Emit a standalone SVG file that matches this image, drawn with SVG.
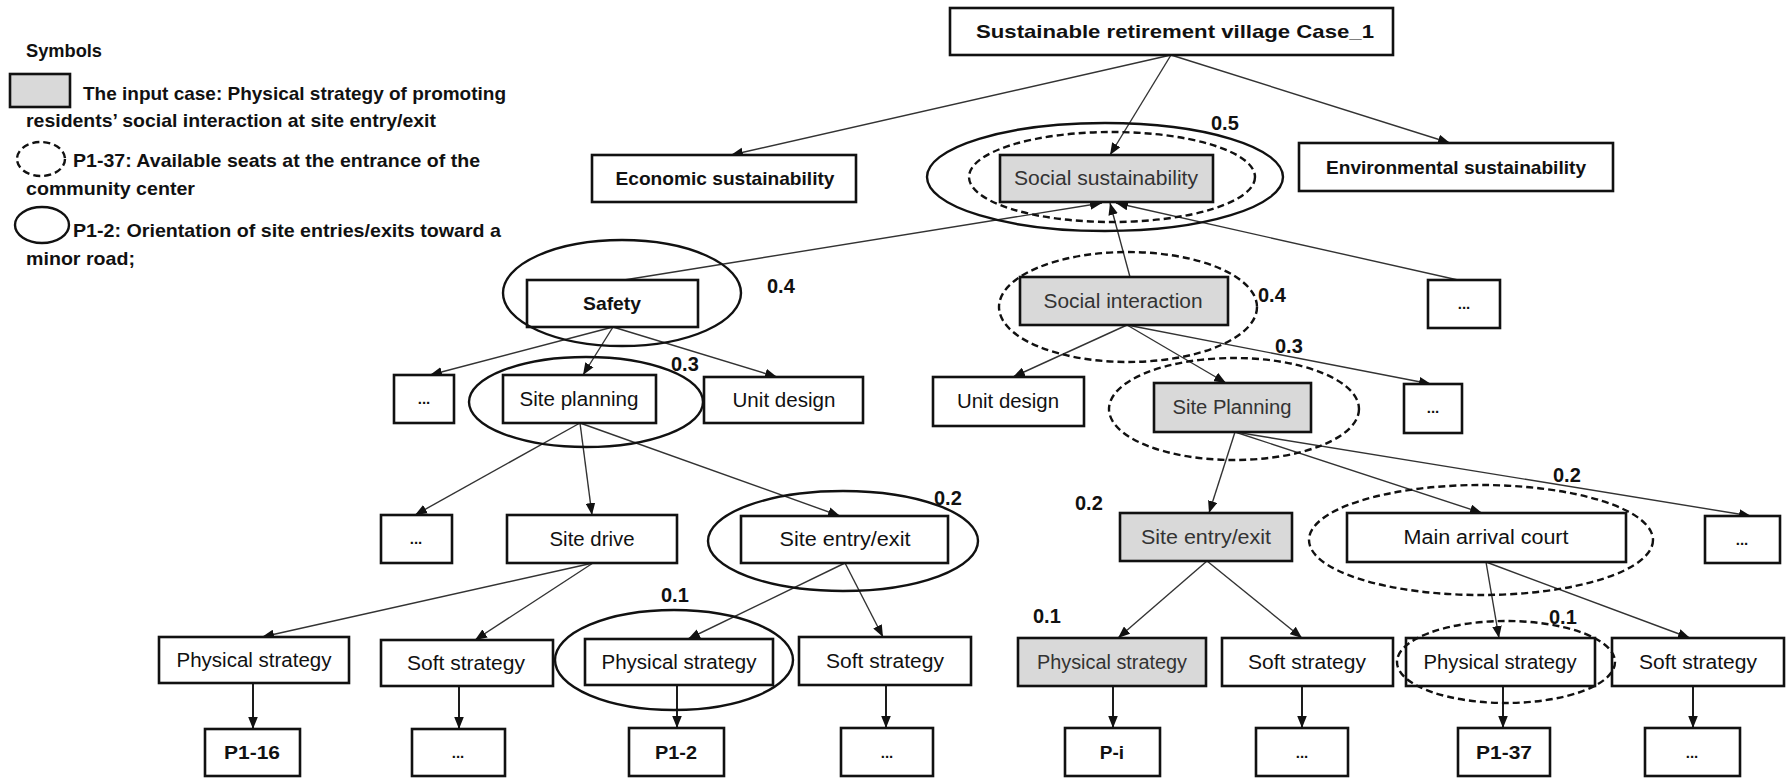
<svg xmlns="http://www.w3.org/2000/svg" width="1790" height="778" viewBox="0 0 1790 778">
<style>
.bg{fill:#ffffff}
.box{fill:#ffffff;stroke:#111;stroke-width:2.6}
.gbox{fill:#d9d9d9;stroke:#111;stroke-width:2.6}
.lbl{font-family:"Liberation Sans",Arial,sans-serif;font-size:20px;fill:#111;text-anchor:middle}
.glbl{font-family:"Liberation Sans",Arial,sans-serif;font-size:20px;fill:#333;text-anchor:middle}
.blbl{font-family:"Liberation Sans",Arial,sans-serif;font-size:19px;font-weight:bold;fill:#111;text-anchor:middle}
.dots{font-family:"Liberation Sans",Arial,sans-serif;font-size:15px;font-weight:bold;fill:#111;text-anchor:middle}
.num{font-family:"Liberation Sans",Arial,sans-serif;font-size:20px;font-weight:bold;fill:#111}
.leg{font-family:"Liberation Sans",Arial,sans-serif;font-size:19px;font-weight:bold;fill:#111}
.ell{fill:none;stroke:#111;stroke-width:2.4}
.dell{fill:none;stroke:#111;stroke-width:2.4;stroke-dasharray:7 4}
.con{fill:none;stroke:#333;stroke-width:1.4;marker-end:url(#arr)}
.vcon{fill:none;stroke:#111;stroke-width:1.9;marker-end:url(#arr)}
</style>
<defs>
<marker id="arr" viewBox="0 0 10 8" refX="10" refY="4" markerWidth="12" markerHeight="10" markerUnits="userSpaceOnUse" orient="auto">
<path d="M0,0 L10,4 L0,8 z" fill="#111"/>
</marker>
</defs>
<rect class="bg" x="0" y="0" width="1790" height="778"/>

<g id="legend">
<text class="leg" x="26" y="57" textLength="76" lengthAdjust="spacingAndGlyphs">Symbols</text>
<rect class="gbox" x="10" y="74" width="60" height="33" stroke-width="2"/>
<text class="leg" x="83" y="100" textLength="423" lengthAdjust="spacingAndGlyphs">The input case: Physical strategy of promoting</text>
<text class="leg" x="26" y="127" textLength="410" lengthAdjust="spacingAndGlyphs">residents’ social interaction at site entry/exit</text>
<ellipse class="dell" cx="41" cy="159" rx="24" ry="17"/>
<text class="leg" x="73" y="167" textLength="407" lengthAdjust="spacingAndGlyphs">P1-37: Available seats at the entrance of the</text>
<text class="leg" x="26" y="195" textLength="169" lengthAdjust="spacingAndGlyphs">community center</text>
<ellipse class="ell" cx="42" cy="225" rx="27" ry="18"/>
<text class="leg" x="73" y="237" textLength="428" lengthAdjust="spacingAndGlyphs">P1-2: Orientation of site entries/exits toward a</text>
<text class="leg" x="26" y="265" textLength="109" lengthAdjust="spacingAndGlyphs">minor road;</text>
</g>

<g id="connectors">
<line class="con" x1="1171" y1="55" x2="731" y2="155"/>
<line class="con" x1="1171" y1="55" x2="1110" y2="155"/>
<line class="con" x1="1171" y1="55" x2="1450" y2="143"/>
<line class="con" x1="624" y1="280" x2="1102" y2="203"/>
<line class="con" x1="1130" y1="277" x2="1110" y2="203"/>
<line class="con" x1="1458" y1="280" x2="1116" y2="203"/>
<line class="con" x1="613" y1="327" x2="430" y2="375"/>
<line class="con" x1="613" y1="327" x2="583" y2="375"/>
<line class="con" x1="613" y1="327" x2="777" y2="377"/>
<line class="con" x1="580" y1="423" x2="415" y2="515"/>
<line class="con" x1="580" y1="423" x2="592" y2="515"/>
<line class="con" x1="580" y1="423" x2="840" y2="516"/>
<line class="con" x1="1127" y1="325" x2="1013" y2="377"/>
<line class="con" x1="1127" y1="325" x2="1226" y2="383"/>
<line class="con" x1="1127" y1="325" x2="1431" y2="384"/>
<line class="con" x1="1235" y1="432" x2="1209" y2="513"/>
<line class="con" x1="1235" y1="432" x2="1482" y2="513"/>
<line class="con" x1="1235" y1="432" x2="1751" y2="516"/>
<line class="con" x1="593" y1="563" x2="262" y2="637"/>
<line class="con" x1="593" y1="563" x2="475" y2="640"/>
<line class="con" x1="845" y1="563" x2="688" y2="639"/>
<line class="con" x1="845" y1="563" x2="883" y2="637"/>
<line class="con" x1="1207" y1="561" x2="1118" y2="638"/>
<line class="con" x1="1207" y1="561" x2="1302" y2="638"/>
<line class="con" x1="1486" y1="562" x2="1499" y2="638"/>
<line class="con" x1="1486" y1="562" x2="1690" y2="638"/>
<line class="vcon" x1="253" y1="683" x2="253" y2="729"/>
<line class="vcon" x1="459" y1="686" x2="459" y2="729"/>
<line class="vcon" x1="677" y1="685" x2="677" y2="728"/>
<line class="vcon" x1="886" y1="685" x2="886" y2="728"/>
<line class="vcon" x1="1113" y1="686" x2="1113" y2="728"/>
<line class="vcon" x1="1302" y1="686" x2="1302" y2="728"/>
<line class="vcon" x1="1503" y1="686" x2="1503" y2="728"/>
<line class="vcon" x1="1693" y1="686" x2="1693" y2="728"/>
</g>

<g id="n-root"><rect class="box" x="950" y="8" width="443" height="47"/><text class="blbl" x="1175" y="38" textLength="398" lengthAdjust="spacingAndGlyphs">Sustainable retirement village Case_1</text></g>
<g id="n-econ"><rect class="box" x="592" y="155" width="264" height="47"/><text class="blbl" x="725" y="185" textLength="219" lengthAdjust="spacingAndGlyphs">Economic sustainability</text></g>
<g id="n-social"><rect class="gbox" x="1000" y="155" width="213" height="47"/><text class="glbl" x="1106" y="185" textLength="184" lengthAdjust="spacingAndGlyphs">Social sustainability</text></g>
<g id="n-env"><rect class="box" x="1299" y="143" width="314" height="48"/><text class="blbl" x="1456" y="174" textLength="260" lengthAdjust="spacingAndGlyphs">Environmental sustainability</text></g>
<g id="n-safety"><rect class="box" x="527" y="280" width="171" height="47"/><text class="blbl" x="612" y="310" textLength="58" lengthAdjust="spacingAndGlyphs">Safety</text></g>
<g id="n-socint"><rect class="gbox" x="1020" y="277" width="208" height="48"/><text class="glbl" x="1123" y="308" textLength="159" lengthAdjust="spacingAndGlyphs">Social interaction</text></g>
<g id="n-dots-a"><rect class="box" x="1428" y="280" width="72" height="48"/><text class="dots" x="1464" y="309">...</text></g>
<g id="n-dots-b"><rect class="box" x="394" y="375" width="60" height="48"/><text class="dots" x="424" y="404">...</text></g>
<g id="n-siteplan-l"><rect class="box" x="503" y="375" width="153" height="48"/><text class="lbl" x="579" y="406" textLength="119" lengthAdjust="spacingAndGlyphs">Site planning</text></g>
<g id="n-unit-l"><rect class="box" x="704" y="377" width="159" height="46"/><text class="lbl" x="784" y="407" textLength="103" lengthAdjust="spacingAndGlyphs">Unit design</text></g>
<g id="n-unit-r"><rect class="box" x="933" y="377" width="151" height="49"/><text class="lbl" x="1008" y="408" textLength="102" lengthAdjust="spacingAndGlyphs">Unit design</text></g>
<g id="n-siteplan-r"><rect class="gbox" x="1154" y="383" width="157" height="49"/><text class="glbl" x="1232" y="414" textLength="119" lengthAdjust="spacingAndGlyphs">Site Planning</text></g>
<g id="n-dots-c"><rect class="box" x="1404" y="384" width="58" height="49"/><text class="dots" x="1433" y="413">...</text></g>
<g id="n-dots-d"><rect class="box" x="381" y="515" width="71" height="48"/><text class="dots" x="416" y="544">...</text></g>
<g id="n-sitedrive"><rect class="box" x="507" y="515" width="170" height="48"/><text class="lbl" x="592" y="546" textLength="85" lengthAdjust="spacingAndGlyphs">Site drive</text></g>
<g id="n-entry-l"><rect class="box" x="741" y="516" width="207" height="47"/><text class="lbl" x="845" y="546" textLength="131" lengthAdjust="spacingAndGlyphs">Site entry/exit</text></g>
<g id="n-entry-r"><rect class="gbox" x="1120" y="513" width="172" height="48"/><text class="glbl" x="1206" y="544" textLength="130" lengthAdjust="spacingAndGlyphs">Site entry/exit</text></g>
<g id="n-mainarr"><rect class="box" x="1347" y="513" width="279" height="49"/><text class="lbl" x="1486" y="544" textLength="165" lengthAdjust="spacingAndGlyphs">Main arrival court</text></g>
<g id="n-dots-e"><rect class="box" x="1705" y="516" width="75" height="47"/><text class="dots" x="1742" y="545">...</text></g>
<g id="n-phys1"><rect class="box" x="159" y="637" width="190" height="46"/><text class="lbl" x="254" y="667" textLength="155" lengthAdjust="spacingAndGlyphs">Physical strategy</text></g>
<g id="n-soft1"><rect class="box" x="381" y="640" width="172" height="46"/><text class="lbl" x="466" y="670" textLength="118" lengthAdjust="spacingAndGlyphs">Soft strategy</text></g>
<g id="n-phys2"><rect class="box" x="585" y="639" width="188" height="46"/><text class="lbl" x="679" y="669" textLength="155" lengthAdjust="spacingAndGlyphs">Physical strategy</text></g>
<g id="n-soft2"><rect class="box" x="799" y="637" width="172" height="48"/><text class="lbl" x="885" y="668" textLength="118" lengthAdjust="spacingAndGlyphs">Soft strategy</text></g>
<g id="n-phys3"><rect class="gbox" x="1018" y="638" width="188" height="48"/><text class="glbl" x="1112" y="669" textLength="150" lengthAdjust="spacingAndGlyphs">Physical strategy</text></g>
<g id="n-soft3"><rect class="box" x="1222" y="638" width="171" height="48"/><text class="lbl" x="1307" y="669" textLength="118" lengthAdjust="spacingAndGlyphs">Soft strategy</text></g>
<g id="n-phys4"><rect class="box" x="1406" y="638" width="189" height="48"/><text class="lbl" x="1500" y="669" textLength="153" lengthAdjust="spacingAndGlyphs">Physical strategy</text></g>
<g id="n-soft4"><rect class="box" x="1612" y="638" width="172" height="48"/><text class="lbl" x="1698" y="669" textLength="118" lengthAdjust="spacingAndGlyphs">Soft strategy</text></g>
<g id="n-p116"><rect class="box" x="205" y="729" width="95" height="47"/><text class="blbl" x="252" y="759" textLength="56" lengthAdjust="spacingAndGlyphs">P1-16</text></g>
<g id="n-dots-f"><rect class="box" x="412" y="729" width="93" height="47"/><text class="dots" x="458" y="758">...</text></g>
<g id="n-p12"><rect class="box" x="629" y="728" width="95" height="48"/><text class="blbl" x="676" y="759" textLength="42" lengthAdjust="spacingAndGlyphs">P1-2</text></g>
<g id="n-dots-g"><rect class="box" x="841" y="728" width="92" height="48"/><text class="dots" x="887" y="758">...</text></g>
<g id="n-pi"><rect class="box" x="1065" y="728" width="95" height="48"/><text class="blbl" x="1112" y="759">P-i</text></g>
<g id="n-dots-h"><rect class="box" x="1256" y="728" width="92" height="48"/><text class="dots" x="1302" y="758">...</text></g>
<g id="n-p137"><rect class="box" x="1458" y="728" width="92" height="48"/><text class="blbl" x="1504" y="759" textLength="56" lengthAdjust="spacingAndGlyphs">P1-37</text></g>
<g id="n-dots-i"><rect class="box" x="1645" y="728" width="95" height="48"/><text class="dots" x="1692" y="758">...</text></g>

<g id="highlights">
<ellipse class="ell" cx="1105" cy="177" rx="178" ry="54"/>
<ellipse class="dell" cx="1112" cy="177" rx="143" ry="45"/>
<ellipse class="ell" cx="622" cy="293" rx="119" ry="53"/>
<ellipse class="dell" cx="1128" cy="307" rx="129" ry="55"/>
<ellipse class="ell" cx="586" cy="402" rx="117" ry="45"/>
<ellipse class="dell" cx="1234" cy="409" rx="125" ry="51"/>
<ellipse class="ell" cx="843" cy="541" rx="135" ry="50"/>
<ellipse class="dell" cx="1481" cy="540" rx="172" ry="55"/>
<ellipse class="ell" cx="674" cy="660" rx="119" ry="50"/>
<ellipse class="dell" cx="1506" cy="662" rx="109" ry="41"/>
</g>

<g id="weights">
<text class="num" x="1211" y="130">0.5</text>
<text class="num" x="767" y="293">0.4</text>
<text class="num" x="1258" y="302">0.4</text>
<text class="num" x="671" y="371">0.3</text>
<text class="num" x="1275" y="353">0.3</text>
<text class="num" x="934" y="505">0.2</text>
<text class="num" x="1075" y="510">0.2</text>
<text class="num" x="1553" y="482">0.2</text>
<text class="num" x="661" y="602">0.1</text>
<text class="num" x="1033" y="623">0.1</text>
<text class="num" x="1549" y="624">0.1</text>
</g>
</svg>
